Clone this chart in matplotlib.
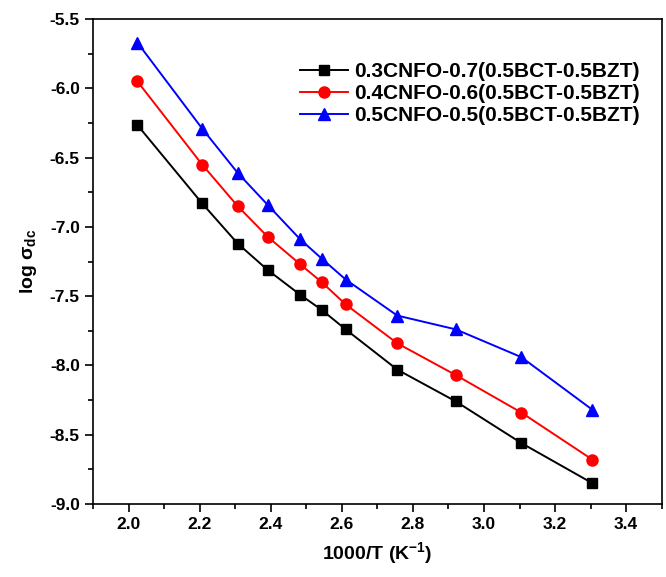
import numpy as np
import matplotlib.pyplot as plt
from matplotlib.ticker import MultipleLocator

plt.rcParams['font.family'] = ['Liberation Sans', 'DejaVu Sans']
plt.rcParams['font.weight'] = 'bold'
plt.rcParams['mathtext.fontset'] = 'custom'
plt.rcParams['mathtext.rm'] = 'Liberation Sans:bold'
plt.rcParams['mathtext.it'] = 'Liberation Sans:bold'

# --- data ---
inv_T = [2.025, 2.207, 2.307, 2.391, 2.483, 2.544, 2.611, 2.756, 2.921, 3.105, 3.305]
sig_03 = [-6.265, -6.83, -7.12, -7.31, -7.49, -7.60, -7.74, -8.03, -8.26, -8.56, -8.85]
sig_04 = [-5.95, -6.55, -6.85, -7.07, -7.27, -7.40, -7.56, -7.84, -8.07, -8.34, -8.68]
sig_05 = [-5.67, -6.29, -6.61, -6.84, -7.09, -7.23, -7.38, -7.64, -7.74, -7.94, -8.32]
labels = ['0.3CNFO-0.7(0.5BCT-0.5BZT)',
          '0.4CNFO-0.6(0.5BCT-0.5BZT)',
          '0.5CNFO-0.5(0.5BCT-0.5BZT)']

fig = plt.figure(figsize=(6.66, 5.77), dpi=100)
ax = fig.add_axes([0.1396, 0.1265, 0.854, 0.8405])

ax.plot(inv_T, sig_03, '-s', color='black', lw=1.4, ms=7, label=labels[0])
ax.plot(inv_T, sig_04, '-o', color='red', lw=1.4, ms=8, label=labels[1])
ax.plot(inv_T, sig_05, '-^', color='blue', lw=1.4, ms=8.5, label=labels[2])

ax.set_xlim(1.9, 3.5)
ax.set_ylim(-9.0, -5.5)
ax.xaxis.set_major_locator(MultipleLocator(0.2))
ax.xaxis.set_minor_locator(MultipleLocator(0.1))
ax.yaxis.set_major_locator(MultipleLocator(0.5))
ax.yaxis.set_minor_locator(MultipleLocator(0.25))
ax.xaxis.set_major_formatter(plt.FormatStrFormatter('%.1f'))
ax.yaxis.set_major_formatter(plt.FormatStrFormatter('%.1f'))
ax.tick_params(which='major', direction='out', length=6, width=1.2, labelsize=12.5)
ax.tick_params(which='minor', direction='out', length=3.5, width=1.2)
for s in ax.spines.values():
    s.set_linewidth(1.2)

ax.set_xlabel('1000/T (K$^{-1}$)', fontsize=14, fontweight='bold', labelpad=6)
ax.set_ylabel(r'log $\sigma_{\rm dc}$', fontsize=14, fontweight='bold', labelpad=8)

ax.legend(loc='upper right', bbox_to_anchor=(0.995, 0.95), frameon=False,
          fontsize=15, handlelength=2.3, labelspacing=0.15, handletextpad=0.3)

fig.savefig('out.png', dpi=100)
